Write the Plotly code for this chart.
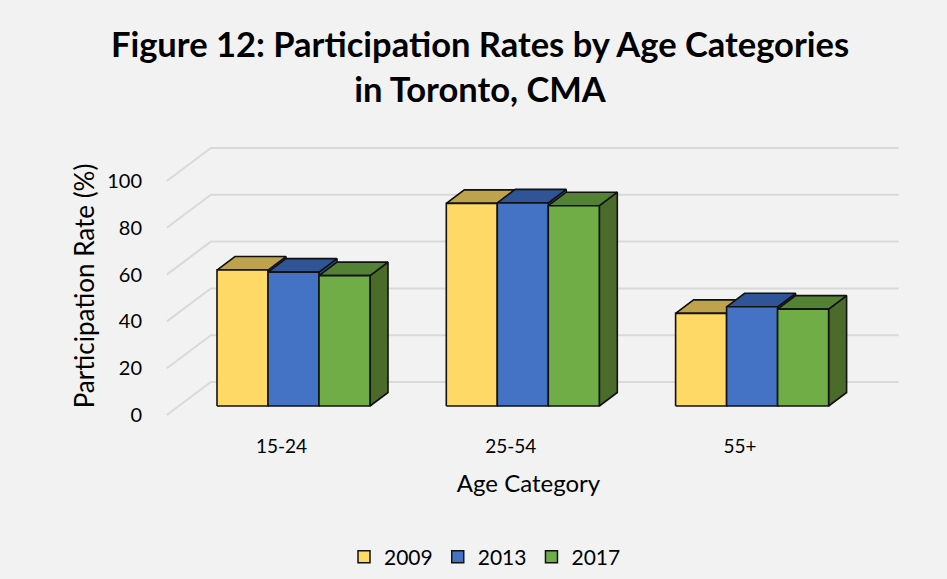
import plotly.graph_objects as go

# ---------------- data ----------------
categories = ["15-24", "25-54", "55+"]
years = ["2009", "2013", "2017"]
rate_2009 = [58.1, 86.6, 39.6]
rate_2013 = [57.2, 86.8, 42.4]
rate_2017 = [55.7, 85.6, 41.4]
y_ticks = [0, 20, 40, 60, 80, 100]

series = [rate_2009, rate_2013, rate_2017]
front_colors = ["#FFD966", "#4472C4", "#70AD47"]
top_colors = ["#BFA34C", "#2F5597", "#548235"]
side_colors = ["#A68A2E", "#2F528F", "#4A6B2A"]

FONT = "Lato"
W, H = 947, 579
ML, MR, MT, MB = 150, 40, 145, 152
KX = 229.3      # px per category slot
KY = 2.34       # px per percentage point
X0_PX = 293.5   # pixel of first category centre (front plane of bars)
Y0_PX = 406.0   # pixel of value 0 (front plane of bars)
SLOPE = 0.75    # vertical px per horizontal px of depth
BAR_W = 51 / KX
BAR_D = 18      # bar depth in px
FLOOR_FRONT = -12  # depth of floor front edge (px) relative to bar front
BACK_WALL = 32     # depth of back wall (px) relative to bar front


def dshift(d):
    return d / KX, SLOPE * d / KY


pw = W - ML - MR
ph = H - MT - MB
xmin = (ML - X0_PX) / KX
xmax = xmin + pw / KX
ymax = (Y0_PX - MT) / KY
ymin = ymax - ph / KY

fig = go.Figure()

# gridlines: back wall horizontals + left wall diagonals
bx, by = dshift(BACK_WALL)
fx, fy = dshift(FLOOR_FRONT)
left, right = -0.5, len(categories) - 0.5
gx, gy = [], []
for g in y_ticks:
    gx += [left + fx, left + bx, right + bx, None]
    gy += [g + fy, g + by, g + by, None]
fig.add_trace(go.Scatter(x=gx, y=gy, mode="lines", line=dict(color="#D9D9D9", width=2),
                         hoverinfo="skip", showlegend=False))

ddx, ddy = dshift(BAR_D)
for s, vals in enumerate(series):
    sx, sy, tx, ty, fxs, fys = [], [], [], [], [], []
    for i, v in enumerate(vals):
        xl = i + (s - 1) * BAR_W - BAR_W / 2
        xr = xl + BAR_W
        # side face
        sx += [xr, xr + ddx, xr + ddx, xr, xr, None]
        sy += [0, ddy, v + ddy, v, 0, None]
        # top face
        tx += [xl, xr, xr + ddx, xl + ddx, xl, None]
        ty += [v, v, v + ddy, v + ddy, v, None]
        # front face
        fxs += [xl, xr, xr, xl, xl, None]
        fys += [0, 0, v, v, 0, None]
    for px_, py_, col in [(sx, sy, side_colors[s]), (tx, ty, top_colors[s]), (fxs, fys, front_colors[s])]:
        fig.add_trace(go.Scatter(x=px_, y=py_, mode="lines", fill="toself", fillcolor=col,
                                 line=dict(color="#111111", width=1.6), hoverinfo="skip",
                                 showlegend=False))

# legend entries
for s, yr in enumerate(years):
    fig.add_trace(go.Bar(x=[None], y=[None], name=yr,
                         marker=dict(color=front_colors[s], line=dict(color="#111111", width=1.5))))

fig.update_layout(
    width=W, height=H,
    paper_bgcolor="#F2F2F2", plot_bgcolor="#F2F2F2",
    margin=dict(l=ML, r=MR, t=MT, b=MB, autoexpand=False),
    font=dict(family=FONT, color="#000000", size=20),
    title=dict(text="<b>Figure 12: Participation Rates by Age Categories<br>in Toronto, CMA</b>",
               x=480 / W, xanchor="center", xref="container",
               y=1 - 57 / H, yanchor="top", yref="container",
               font=dict(family=FONT, size=34.5, color="#000000")),
    xaxis=dict(range=[xmin, xmax], showgrid=False, zeroline=False, showline=False,
               tickvals=[i + fx for i in range(len(categories))], ticktext=categories,
               ticks="outside", ticklen=2, tickcolor="rgba(0,0,0,0)", tickfont=dict(size=19),
               title=dict(text="Age Category", font=dict(size=24), standoff=19)),
    yaxis=dict(range=[ymin, ymax], showgrid=False, zeroline=False, showline=False,
               tickvals=[g + fy for g in y_ticks], ticktext=[str(g) for g in y_ticks],
               ticks="outside", ticklen=3, tickcolor="rgba(0,0,0,0)",
               tickfont=dict(size=20),
               title=dict(text="Participation Rate (%)", font=dict(size=26), standoff=5)),
    legend=dict(orientation="h", x=485 / W, xanchor="center", xref="container",
                y=1 - 557 / H, yanchor="middle", yref="container",
                font=dict(size=21), bgcolor="rgba(0,0,0,0)"),
    showlegend=True,
)

fig.write_html("out.html", config={"displayModeBar": False},
               post_script="document.body.style.margin='0';document.body.style.background='#F2F2F2';")
